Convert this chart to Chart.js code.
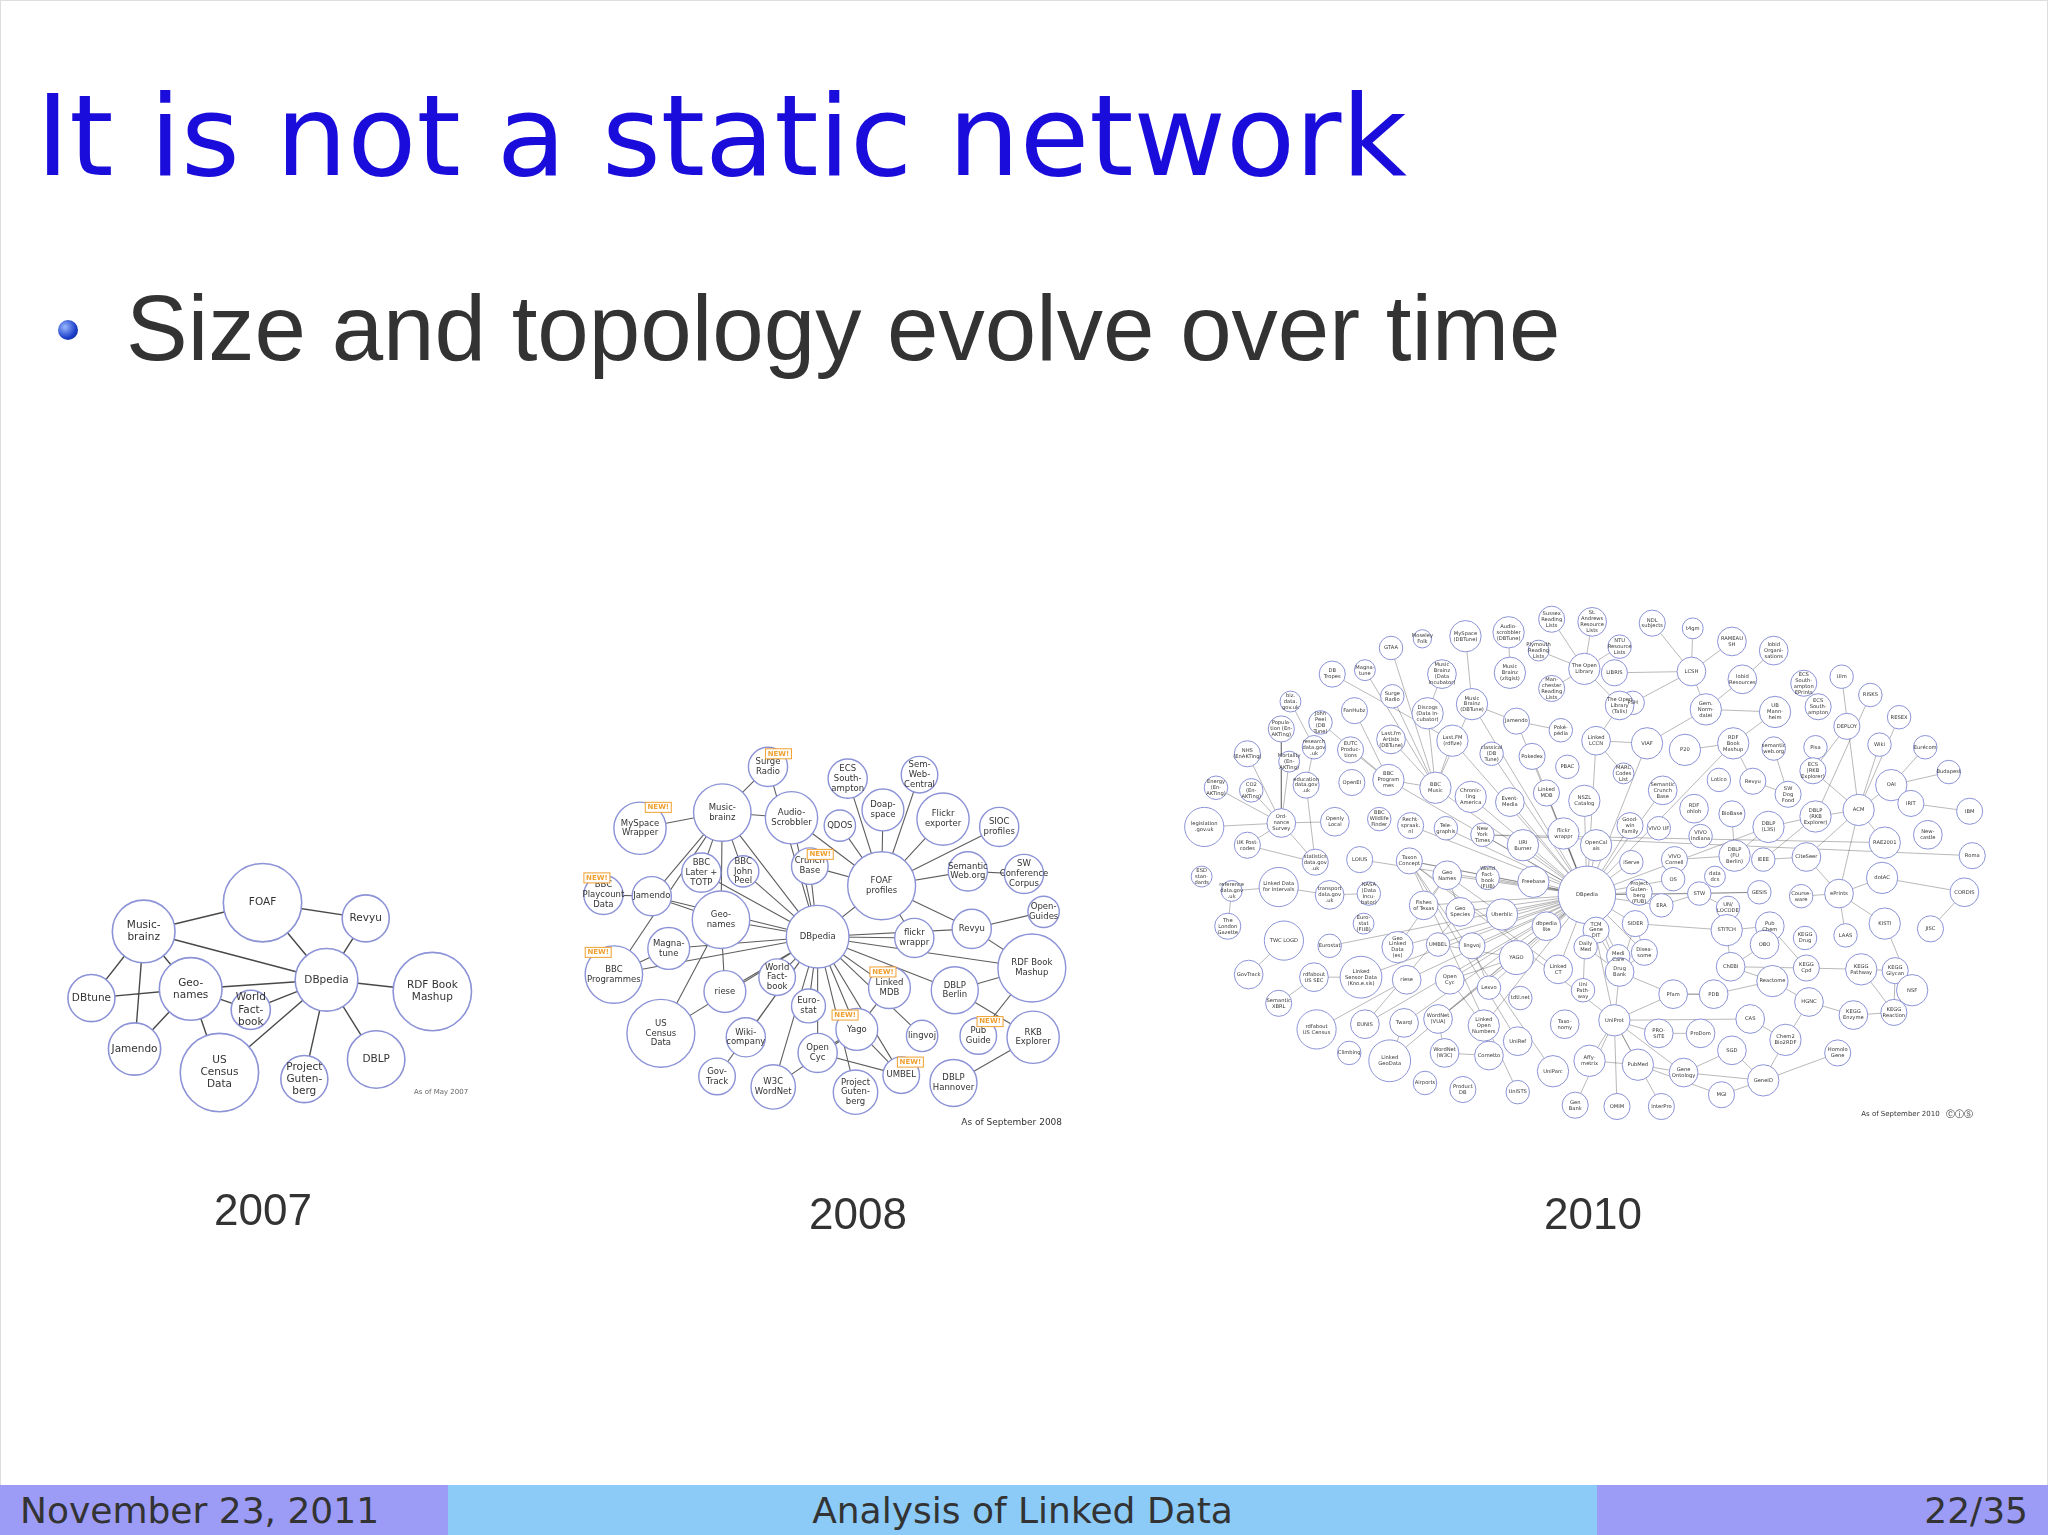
<!DOCTYPE html>
<html><head><meta charset="utf-8">
<script src="https://cdn.jsdelivr.net/npm/chart.js@4"></script>
<style>
html,body{margin:0;padding:0;background:#fff;}
body{width:2048px;height:1535px;position:relative;overflow:hidden;font-family:"DejaVu Sans",sans-serif;}
#c{position:absolute;left:0;top:0;}
.t{position:absolute;white-space:nowrap;}
#title{left:36px;top:70px;font-size:113px;color:#1a0ddc;}
#bul{left:126px;top:275px;font-size:92.5px;color:#333;font-family:"Liberation Sans",Arial,sans-serif;}
#dot{position:absolute;left:58px;top:320px;width:20px;height:20px;border-radius:50%;background:radial-gradient(circle at 35% 35%,#9ab8ff,#1b3fc9 60%,#0a1f80);}
.yr{font-size:44px;color:#333;transform:translateX(-50%);font-family:"Liberation Sans",Arial,sans-serif;}
#foot{position:absolute;left:0;top:1485px;width:2048px;height:50px;}
.fs{position:absolute;top:0;height:50px;font-size:36px;line-height:52px;color:#333;}
#border{position:absolute;left:0;top:0;width:2046px;height:1533px;border:1px solid #ddd;pointer-events:none;}
</style></head><body>
<div id="border"></div>
<div class="t" id="title">It is not a static network</div>
<div id="dot"></div>
<div class="t" id="bul">Size and topology evolve over time</div>
<canvas id="c" width="2048" height="1535"></canvas>
<div class="t yr" style="left:263px;top:1185px">2007</div>
<div class="t yr" style="left:858px;top:1189px">2008</div>
<div class="t yr" style="left:1593px;top:1189px">2010</div>
<div id="foot">
 <div class="fs" style="left:0;width:448px;background:#9c9cf6;padding-left:20px;box-sizing:border-box">November 23, 2011</div>
 <div class="fs" style="left:448px;width:1149px;background:#8ccbf8;text-align:center">Analysis of Linked Data</div>
 <div class="fs" style="left:1597px;width:451px;background:#9c9cf6;text-align:right;padding-right:20px;box-sizing:border-box">22/35</div>
</div>
<script>
// ---------- 2007 ----------
const n07Names=["FOAF","Music-|brainz","Revyu","DBpedia","Geo-|names","DBtune","World|Fact-|book","RDF Book|Mashup","Jamendo","US|Census|Data","Project|Guten-|berg","DBLP"];
const n07X=[201,110,280,250,146,70,192,331,103,168,233,288];
const n07Y=[691,713,703,750,757,764,773,759,803,821,826,811];
const n07R=[30,24,18,24,24,18,15,30,20,30,18,22];
const e07=[["Music","FOAF"],["DBpedia","FOAF"],["Revyu","FOAF"],["Revyu","DBpedia"],["DBpedia","Music"],["DBpedia","Geo"],["DBtune","Music"],["DBtune","Geo"],["Geo","Music"],["Jamendo","Geo"],["Geo","US"],["DBpedia","US"],["DBpedia","World"],["DBpedia","Project"],["DBpedia","DBLP"],["DBpedia","RDF"],["Jamendo","Music"],["Geo","World"]];
// ---------- 2008 ----------
const n08Names=["Surge|Radio","ECS|South-|ampton","Sem-|Web-|Central","MySpace|Wrapper","Music-|brainz","Audio-|Scrobbler","QDOS","Doap-|space","Flickr|exporter","SIOC|profiles","BBC|Playcount|Data","Jamendo","BBC|Later +|TOTP","BBC|John|Peel","Crunch|Base","FOAF|profiles","Semantic|Web.org","SW|Conference|Corpus","Open-|Guides","Geo-|names","DBpedia","flickr|wrappr","Revyu","RDF Book|Mashup","BBC|Programmes","Magna-|tune","riese","World|Fact-|book","Euro-|stat","Linked|MDB","DBLP|Berlin","US|Census|Data","Wiki-|company","Yago","lingvoj","Pub|Guide","RKB|Explorer","Gov-|Track","Open|Cyc","W3C|WordNet","Project|Guten-|berg","UMBEL","DBLP|Hannover"];
const n08X=[588,649,704,490,553,606,643,676,722,765,462,499,537,569,620,675,741,784,799,552,626,700,744,790,470,512,555,595,619,681,731,506,571,656,706,749,791,549,626,592,655,690,730];
const n08Y=[587,596,593,634,622,626,632,620,627,633,685,686,668,667,663,678,667,669,698,704,717,718,711,741,746,726,759,748,770,756,758,791,794,788,793,793,794,824,806,832,836,823,829];
const n08R=[15,15,14,20,22,20,12,16,20,15,15,15,15,12,14,26,15,15,12,22,24,15,15,26,22,16,16,14,13,16,18,26,15,16,12,14,20,14,15,17,17,14,18];
const e08=[["DBpedia","Geo"],["DBpedia","Music"],["DBpedia","riese"],["DBpedia","World"],["DBpedia","Euro"],["DBpedia","Linked"],["DBpedia","Yago"],["DBpedia","flickr"],["DBpedia","FOAF"],["DBpedia","Crunch"],["DBpedia","BBC Later"],["DBpedia","Audio"],["DBpedia","Magna"],["DBpedia","US"],["DBpedia","Wiki"],["DBpedia","W3C"],["DBpedia","Open Cyc"],["DBpedia","Project"],["DBpedia","UMBEL"],["DBpedia","DBLP Berlin"],["DBpedia","Revyu"],["DBpedia","RDF"],["DBpedia","Surge"],["DBpedia","lingvoj"],["DBpedia","Gov"],["DBpedia","BBC John"],["DBpedia","Jamendo"],["DBpedia","BBC Prog"],["Geo","Jamendo"],["Geo","Music"],["Geo","US"],["Music","MySpace"],["Music","BBC Later"],["Music","Jamendo"],["Music","Audio"],["BBC John","Music"],["Jamendo","BBC Play"],["BBC Prog","Magna"],["BBC Prog","Music"],["FOAF","QDOS"],["FOAF","Doap"],["FOAF","Sem-"],["FOAF","Flickr"],["FOAF","ECS"],["FOAF","SIOC"],["FOAF","Revyu"],["FOAF","Semantic"],["FOAF","Audio"],["FOAF","Crunch"],["Semantic","SW"],["Revyu","Open-"],["Revyu","RDF"],["RDF","DBLP Berlin"],["RDF","Pub"],["DBLP Berlin","RKB"],["RKB","DBLP Hann"],["Yago","Open Cyc"],["Yago","W3C"],["Yago","UMBEL"],["UMBEL","Open Cyc"],["Linked","Yago"],["Geo","riese"],["Music","Surge"],["FOAF","flickr"]];
const new08X=[596,504,628,457,458,676,647,758,697];
const new08Y=[577,618,654,672,729,744,777,782,813];
// ---------- 2010 ----------
const n10Names=["Sussex|Reading|Lists","St.|Andrews|Resource|Lists","NDL|subjects","t4gm","RAMEAU|SH","lobid|Organi-|sations","MySpace|(DBTune)","Audio-|scrobbler|(DBTune)","Moseley|Folk","GTAA","NTU|Resource|Lists","Plymouth|Reading|Lists","The Open|Library","LIBRIS","LCSH","lobid|Resources","ECS|South-|ampton|EPrints","Ulm","DB|Tropes","Magna-|tune","Music|Brainz|(Data|Incubator)","Music|Brainz|(zitgist)","Man-|chester|Reading|Lists","RISKS","Surge|Radio","Discogs|(Data In-|cubator)","Music|Brainz|(DBTune)","FanHubz","PSH","Gem.|Norm-|datei","UB|Mann-|heim","The Open|Library|(Talis)","ECS|South-|ampton","RESEX","biz.|data.|gov.uk","John|Peel|(DB|Tune)","Jamendo","Poké-|pédia","Linked|LCCN","VIAF","P20","RDF|Book|Mashup","semantic|web.org","DEPLOY","Eurécom","Wiki","Pisa","Popula-|tion (En-|AKTing)","research|data.gov|.uk","Last.fm|Artists|(DBTune)","Last.FM|(rdfize)","EUTC|Produc-|tions","classical|(DB|Tune)","Pokedex","PBAC","NHS|(EnAKTing)","Mortality|(En-|AKTing)","MARC|Codes|List","ECS|(RKB|Explorer)","OAI","Budapest","Energy|(En-|AKTing)","CO2|(En-|AKTing)","education|data.gov|.uk","OpenEI","BBC|Program|mes","BBC|Music","Chronic-|ling|America","Event-|Media","Linked|MDB","NSZL|Catalog","Semantic|Crunch|Base","Lotico","Revyu","SW|Dog|Food","IRIT","IBM","DBLP|(RKB|Explorer)","ACM","legislation|.gov.uk","Ord-|nance|Survey","Openly|Local","BBC|Wildlife|Finder","Recht-|spraak.|nl","Tele-|graphis","New|York|Times","URI|Burner","flickr|wrappr","OpenCal|ais","Good-|win|Family","RDF|ohloh","BioBase","DBLP|(L3S)","RAE2001","New-|castle","VIVO UF","VIVO|Indiana","DBLP|(FU|Berlin)","UK Post-|codes","LOIUS","Taxon|Concept","statistics|data.gov|.uk","iServe","VIVO|Cornell","IEEE","CiteSeer","Roma","ESD|stan-|dards","reference|data.gov|.uk","Linked Data|for Intervals","Geo|Names","World|Fact-|book|(FUB)","Freebase","DBpedia","Project|Guten-|berg|(FUB)","OS","data|dcs","GESIS","Course-|ware","ePrints","dotAC","CORDIS","transport|data.gov|.uk","NASA|(Data|Incu-|bator)","Fishes|of Texas","Geo|Species","Uberblic","dbpedia|lite","TCM|Gene|DIT","SIDER","ERA","STW","UN/|LOCODE","STITCH","Pub|Chem","KEGG|Drug","LAAS","KISTI","JISC","The|London|Gazette","TWC LOGD","Eurostat","Euro-|stat|(FUB)","Geo|Linked|Data|(es)","UMBEL","lingvoj","YAGO","Daily|Med","Medi|Care","Disea-|some","OBO","ChEBI","KEGG|Cpd","KEGG|Pathway","KEGG|Glycan","NSF","GovTrack","rdfabout|US SEC","Linked|Sensor Data|(Kno.e.sis)","riese","Open|Cyc","Lexvo","tdtl.net","Linked|CT","Drug|Bank","Uni|Path-|way","Pfam","PDB","Reactome","HGNC","Semantic|XBRL","rdfabout|US Census","EUNIS","Twarql","WordNet|(VUA)","Linked|Open|Numbers","Taxo-|nomy","UniProt","PRO-|SITE","ProDom","CAS","KEGG|Enzyme","KEGG|Reaction","Climbing","Linked|GeoData","WordNet|(W3C)","Cornetto","UniRef","UniParc","Affy-|metrix","PubMed","Gene|Ontology","SGD","Chem2|Bio2RDF","Homolo|Gene","GeneID","Airports","Product|DB","UniSTS","MGI","Gen|Bank","OMIM","InterPro"];
const n10X=[1188,1219,1265,1296,1326,1358,1122,1155,1089,1065,1240,1178,1213,1236,1295,1334,1381,1410,1020,1045,1104,1156,1188,1432,1066,1093,1127,1037,1250,1306,1359,1240,1392,1454,988,1011,1161,1195,1222,1261,1290,1327,1358,1414,1474,1439,1390,981,1006,1065,1112,1034,1142,1173,1200,955,987,1243,1388,1448,1492,931,958,1000,1035,1063,1099,1126,1156,1184,1213,1273,1316,1342,1369,1463,1508,1390,1423,922,981,1022,1056,1080,1107,1135,1166,1197,1222,1248,1297,1326,1354,1443,1476,1270,1302,1328,955,1041,1079,1007,1249,1282,1350,1383,1510,920,943,979,1108,1139,1174,1215,1255,1281,1313,1347,1379,1408,1441,1504,1018,1048,1090,1118,1150,1184,1222,1252,1272,1301,1323,1322,1355,1382,1413,1443,1478,940,983,1018,1044,1070,1101,1127,1161,1214,1239,1259,1351,1325,1383,1425,1451,1464,956,1006,1042,1077,1110,1140,1164,1193,1240,1212,1281,1312,1357,1385,979,1008,1045,1075,1101,1136,1198,1236,1270,1302,1340,1419,1450,1033,1064,1106,1140,1162,1189,1217,1254,1289,1326,1367,1407,1350,1091,1120,1162,1318,1206,1238,1272];
const n10Y=[474,476,477,481,491,498,487,484,489,496,495,498,512,515,514,520,523,518,516,513,516,515,527,532,533,546,539,544,538,543,545,540,541,549,537,553,552,559,567,569,574,569,573,556,572,570,572,558,572,566,567,574,577,579,587,577,583,592,590,601,591,603,605,601,599,597,603,610,614,607,613,605,597,598,608,615,621,625,620,633,630,629,627,632,634,639,647,638,647,632,619,623,633,645,639,634,640,655,647,658,659,660,660,658,658,656,655,671,682,679,670,672,675,685,683,673,671,683,686,684,672,683,685,684,693,698,700,709,712,707,693,684,695,712,709,718,716,707,711,709,720,724,707,725,723,724,733,725,732,729,723,740,741,742,743,758,746,748,748,750,750,756,764,742,744,758,761,761,751,767,768,788,784,783,780,785,784,781,791,791,780,777,775,806,812,806,808,797,820,812,815,821,804,796,806,827,829,834,836,838,846,847,847];
const n10R=[10,11,10,8,11,11,12,12,7,9,9,8,12,10,11,11,10,9,10,8,11,12,10,9,9,12,12,10,9,12,12,11,10,9,8,9,10,9,11,12,12,12,9,10,9,9,9,10,9,11,12,10,9,10,9,10,8,8,10,12,9,9,9,10,10,12,12,12,11,10,12,11,9,10,10,10,10,12,12,15,11,11,9,10,9,9,12,12,12,10,11,10,12,12,11,9,9,12,10,10,10,10,9,10,9,11,10,8,8,15,11,9,12,22,10,9,8,9,9,11,12,11,11,9,11,11,12,11,10,10,9,9,9,12,11,9,9,12,10,10,15,9,8,12,9,10,13,9,9,10,11,11,10,12,10,12,11,11,16,11,11,9,9,11,11,9,11,11,12,11,10,15,11,11,11,12,11,12,11,11,11,11,10,9,16,11,11,11,12,12,12,11,11,12,10,12,9,10,9,10,10,10,10];
const e10=[["DBpedia","Freebase"],["DBpedia","Uberblic"],["DBpedia","dbpedia"],["DBpedia","YAGO"],["DBpedia","Linked CT"],["DBpedia","Daily"],["DBpedia","TCM"],["DBpedia","SIDER"],["DBpedia","Project"],["DBpedia","OS"],["DBpedia","ERA"],["DBpedia","Geo Names"],["DBpedia","World"],["DBpedia","Fishes"],["DBpedia","Geo Species"],["DBpedia","UMBEL"],["DBpedia","lingvoj"],["DBpedia","Open Cyc"],["DBpedia","URI"],["DBpedia","flickr"],["DBpedia","OpenCal"],["DBpedia","Linked MDB"],["DBpedia","Event"],["DBpedia","Chronic"],["DBpedia","New York"],["DBpedia","Tele"],["DBpedia","Recht"],["DBpedia","BBC Music"],["DBpedia","Last.FM"],["DBpedia","Music Brainz (DB"],["DBpedia","Jamendo"],["DBpedia","Pokedex"],["DBpedia","classical"],["DBpedia","Taxon"],["DBpedia","LOIUS"],["DBpedia","Linked GeoData"],["DBpedia","riese"],["DBpedia","Eurostat"],["DBpedia","Linked Sensor"],["DBpedia","Geo Linked"],["DBpedia","Drug"],["DBpedia","Disea"],["DBpedia","iServe"],["DBpedia","Good"],["DBpedia","NSZL"],["DBpedia","Linked LCCN"],["DBpedia","VIAF"],["DBpedia","RDF Book"],["DBpedia","Semantic Crunch"],["DBpedia","DBLP (L3S)"],["DBpedia","Lexvo"],["DBpedia","WordNet (VUA)"],["DBpedia","Linked Open"],["DBpedia","Taxo"],["DBpedia","UniProt"],["DBpedia","Medi"],["DBpedia","Uni Path"],["DBpedia","Twarql"],["DBpedia","EUNIS"],["DBpedia","Rechts"],["DBpedia","BBC Program"],["DBpedia","GESIS"],["DBpedia","STW"],
["MySpace","Music Brainz (DB"],["Audio","Music Brainz (z"],["Music Brainz (Data","Discogs"],["Discogs","BBC Music"],["Last.FM","BBC Music"],["Last.fm","BBC Music"],["Surge","BBC Music"],["BBC Program","BBC Music"],["John","BBC Program"],["FanHubz","BBC Program"],["EUTC","BBC Program"],["DB Tropes","Last.FM"],["Magna","BBC Music"],["GTAA","BBC Music"],["Music Brainz (DB","BBC Music"],["Jamendo","Music Brainz (DB"],["Poké","Jamendo"],["Sussex","The Open Library"],["St.","The Open Library"],["Plymouth","The Open Library"],["Man","The Open Library"],["NTU","The Open Library"],["The Open Library (T","The Open Library"],["The Open Library (T","Linked LCCN"],["Linked LCCN","VIAF"],["Linked LCCN","MARC"],["NDL","LCSH"],["t4gm","LCSH"],["LIBRIS","LCSH"],["LCSH","RAMEAU"],["Gem","LCSH"],["Gem","lobid Res"],["lobid Res","lobid Org"],["UB","Gem"],["UB","RDF Book"],["VIAF","Gem"],["PSH","LCSH"],["P20","RDF Book"],["RDF Book","Revyu"],["Revyu","SW Dog"],["semantic","SW Dog"],["ECS South- ampton EP","ECS South- ampton"],["DBLP (RKB","ACM"],["DBLP (RKB","DBLP (L3S)"],["ACM","OAI"],["ACM","RAE"],["ACM","CiteSeer"],["ECS (RKB","ACM"],["ECS (RKB","Pisa"],["ECS (RKB","DEPLOY"],["Wiki","ACM"],["OAI","IRIT"],["OAI","Budapest"],["OAI","Eurécom"],["RAE","New"],["IRIT","IBM"],["New","Roma"],["ACM","ePrints"],["ePrints","dotAC"],["ePrints","LAAS"],["ePrints","KISTI"],["dotAC","CORDIS"],["KISTI","NSF"],["JISC","CORDIS"],["Course","ePrints"],["DBLP (FU","DBLP (L3S)"],["IEEE","CiteSeer"],["VIVO Cornell","DBLP (FU"],["BioBase","DBLP (FU"],["RISKS","DBLP (RKB"],["RESEX","ACM"],["Ulm","ACM"],["DBLP (RKB","IEEE"],["CiteSeer","ePrints"],
["legislation","Ord"],["UK Post","Ord"],["UK Post","statistics"],["Openly","Ord"],["NHS","Ord"],["Energy","Ord"],["CO2","Ord"],["Mortality","Ord"],["education","statistics"],["research","education"],["Popula","Ord"],["biz","research"],["statistics","Ord"],["reference","Linked Data for"],["reference","The London"],["transport","Linked Data for"],["NASA","transport"],["TWC","GovTrack"],["Linked Sensor","rdfabout US SEC"],["Semantic XBRL","rdfabout US SEC"],["riese","rdfabout US Census"],["Geo Names","Geo Species"],["Fishes","Geo Names"],["Geo Linked","Geo Names"],["Uberblic","Geo Names"],["YAGO","UMBEL"],["YAGO","Open Cyc"],["YAGO","WordNet (VUA)"],["Lexvo","lingvoj"],["WordNet (VUA)","WordNet (W3C)"],["Cornetto","WordNet (W3C)"],["Linked Open","Open Cyc"],["Twarql","Linked GeoData"],["EUNIS","Geo Species"],["Taxo","Linked CT"],["UniRef","Taxo"],["UniParc","Taxo"],["UniSTS","Taxo"],["UniProt","Taxo"],["UniProt","PubMed"],["UniProt","Pfam"],["UniProt","PRO"],["UniProt","Gene"],["UniProt","OMIM"],["UniProt","InterPro"],["UniProt","Drug"],["UniProt","Affy"],["UniProt","Gen Bank"],["PubMed","Gene"],["PubMed","MGI"],["Gene","GeneID"],["Gene","SGD"],["Homolo","GeneID"],["Chem2","GeneID"],["Chem2","CAS"],["Chem2","HGNC"],["SGD","GeneID"],["PDB","Pfam"],["PDB","Reactome"],["ChEBI","Reactome"],["ChEBI","KEGG Cpd"],["ChEBI","STITCH"],["ChEBI","OBO"],["KEGG Cpd","KEGG Pathway"],["KEGG Cpd","Pub"],["KEGG Pathway","KEGG Glycan"],["KEGG Pathway","KEGG Reaction"],["KEGG Reaction","KEGG Enzyme"],["KEGG Reaction","KEGG Glycan"],["KEGG Enzyme","HGNC"],["HGNC","Reactome"],["STITCH","Pub"],["STITCH","SIDER"],["Drug","Pfam"],["Drug","SIDER"],["Drug","Medi"],["Drug","TCM"],["Drug","Disea"],["Disea","SIDER"],["Daily","Drug"],["GESIS","STW"],["STW","ERA"],["UN","STW"],["Pfam","PDB"],["CAS","UniProt"],["PRO","ProDom"],["Affy","PubMed"],["MGI","GeneID"]];

const S=2048/1568;
function find(names,key){
  for(let i=0;i<names.length;i++){ if(names[i].split('|').join(' ').startsWith(key)) return i; }
  for(let i=0;i<names.length;i++){ if(names[i].startsWith(key)) return i; }
  return -1;
}
function edgeData(names,X,Y,edges){
  const d=[];
  edges.forEach(([a,b])=>{const i=find(names,a),j=find(names,b); if(i<0||j<0) return;
    d.push({x:X[i],y:Y[i]},{x:X[j],y:Y[j]},{x:(X[i]+X[j])/2,y:null});});
  return d;
}
function nodeData(X,Y,R){return X.map((x,i)=>({x:x,y:Y[i],r:R[i]*S}));}
const nets=[
 {names:n07Names,X:n07X,Y:n07Y,R:n07R,E:e07,font:10.5,lw:1.6,ew:1.4,ec:'rgba(40,40,40,0.85)'},
 {names:n08Names,X:n08X,Y:n08Y,R:n08R,E:e08,font:8.5,lw:1.4,ew:1.1,ec:'rgba(40,40,40,0.75)'},
 {names:n10Names,X:n10X,Y:n10Y,R:n10R,E:e10,font:5.2,lw:1,ew:0.6,ec:'rgba(40,40,40,0.55)'}
];
const datasets=[];
nets.forEach((n,k)=>{
  datasets.push({type:'scatter',data:edgeData(n.names,n.X,n.Y,n.E),showLine:true,spanGaps:false,pointRadius:0,borderColor:n.ec,borderWidth:n.ew,order:5,clip:false});
  datasets.push({type:'bubble',data:nodeData(n.X,n.Y,n.R),backgroundColor:'#ffffff',borderColor:'#8c93d6',borderWidth:n.lw,order:1,clip:false});
});
const labelPlugin={id:'labels',afterDatasetsDraw(chart){
  const ctx=chart.ctx,xs=chart.scales.x,ys=chart.scales.y;
  ctx.save();ctx.textAlign='center';ctx.textBaseline='middle';ctx.fillStyle='#333';
  nets.forEach(n=>{
    ctx.font=n.font+'px "DejaVu Sans"';
    n.names.forEach((nm,i)=>{
      const lines=nm.split('|');const px=xs.getPixelForValue(n.X[i]),py=ys.getPixelForValue(n.Y[i]);
      const lh=n.font*1.15;
      lines.forEach((l,j)=>ctx.fillText(l,px,py+(j-(lines.length-1)/2)*lh));
    });
  });
  ctx.font='bold 7px "DejaVu Sans"';
  new08X.forEach((x,i)=>{const px=xs.getPixelForValue(x),py=ys.getPixelForValue(new08Y[i]);
    ctx.fillStyle='#fff';ctx.fillRect(px-13,py-5,26,10);ctx.strokeStyle='#f0a030';ctx.lineWidth=1;ctx.strokeRect(px-13,py-5,26,10);
    ctx.fillStyle='#f0a030';ctx.fillText('NEW!',px,py);});
  ctx.fillStyle='#666';ctx.textAlign='left';
  ctx.font='7px "DejaVu Sans"';ctx.fillText('As of May 2007',xs.getPixelForValue(317),ys.getPixelForValue(836));
  ctx.font='9px "DejaVu Sans"';ctx.fillStyle='#333';ctx.fillText('As of September 2008',xs.getPixelForValue(736),ys.getPixelForValue(859));
  ctx.font='7px "DejaVu Sans"';ctx.fillText('As of September 2010',xs.getPixelForValue(1425),ys.getPixelForValue(853));
  ctx.font='9px "DejaVu Sans"';ctx.fillText('\u24B8\u24D8\u24C8',xs.getPixelForValue(1490),ys.getPixelForValue(853));
  ctx.restore();
}};
new Chart(document.getElementById('c'),{
  type:'bubble',
  data:{datasets:datasets},
  options:{responsive:false,animation:false,devicePixelRatio:1,
    layout:{padding:0,autoPadding:false},
    plugins:{legend:{display:false},tooltip:{enabled:false}},
    scales:{x:{type:'linear',min:0,max:1568,display:false},y:{type:'linear',min:0,max:1175,reverse:true,display:false}}},
  plugins:[labelPlugin]
});
</script>
</body></html>
